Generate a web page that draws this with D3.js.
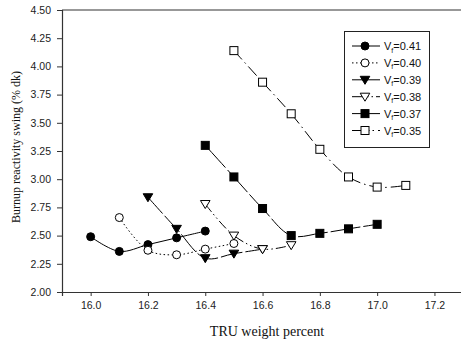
<!DOCTYPE html>
<html>
<head>
<meta charset="utf-8">
<script src="https://cdn.jsdelivr.net/npm/d3@7"></script>
<style>
  html, body { margin: 0; padding: 0; background: #fff; }
  svg { display: block; }
</style>
</head>
<body>
<script>
// TRU weight percent positions and burnup reactivity swing per fuel volume fraction
const vf41x = [16.0, 16.1, 16.2, 16.3, 16.4];
const vf41y = [2.49, 2.36, 2.42, 2.48, 2.54];
const vf40x = [16.1, 16.2, 16.3, 16.4, 16.5];
const vf40y = [2.66, 2.37, 2.33, 2.38, 2.43];
const vf39x = [16.2, 16.3, 16.4, 16.5, 16.6];
const vf39y = [2.84, 2.56, 2.30, 2.34, 2.38];
const vf38x = [16.4, 16.5, 16.6, 16.7];
const vf38y = [2.78, 2.50, 2.38, 2.415];
const vf37x = [16.4, 16.5, 16.6, 16.7, 16.8, 16.9, 17.0];
const vf37y = [3.30, 3.02, 2.74, 2.50, 2.52, 2.56, 2.60];
const vf35x = [16.5, 16.6, 16.7, 16.8, 16.9, 17.0, 17.1];
const vf35y = [4.14, 3.86, 3.58, 3.265, 3.02, 2.93, 2.945];

const seriesLabels = ["0.41", "0.40", "0.39", "0.38", "0.37", "0.35"];
const xTicks = [16.0, 16.2, 16.4, 16.6, 16.8, 17.0, 17.2];
const yTicks = [2.00, 2.25, 2.50, 2.75, 3.00, 3.25, 3.50, 3.75, 4.00, 4.25, 4.50];

const series = [
  { label: seriesLabels[0], xs: vf41x, ys: vf41y, marker: "circle",   fill: "#000", dash: null,               key: null },
  { label: seriesLabels[1], xs: vf40x, ys: vf40y, marker: "circle",   fill: "#fff", dash: "1.5,2.5",          key: "1.5,2.5" },
  { label: seriesLabels[2], xs: vf39x, ys: vf39y, marker: "triangle", fill: "#000", dash: "22,3",             key: null },
  { label: seriesLabels[3], xs: vf38x, ys: vf38y, marker: "triangle", fill: "#fff", dash: "10,3,1.5,3,1.5,3", key: "12,3,1.5,3,1.5,3" },
  { label: seriesLabels[4], xs: vf37x, ys: vf37y, marker: "square",   fill: "#000", dash: "30,3",             key: null },
  { label: seriesLabels[5], xs: vf35x, ys: vf35y, marker: "square",   fill: "#fff", dash: "12,4,1.5,4",       key: "12,4,1.5,3,1.5,4" }
];

const W = 461, H = 342;
const plot = { left: 62, top: 10, bottom: 292 };

const svg = d3.select("body").append("svg")
  .attr("width", W).attr("height", H);

const x = d3.scaleLinear().domain([15.9, 17.3]).range([plot.left, plot.left + 1.4 * 286.5]);
const y = d3.scaleLinear().domain([2.0, 4.5]).range([plot.bottom, plot.top]);

const axisColor = "#333";
const tickFont = "'Liberation Sans', Arial, sans-serif";
const titleFont = "'Liberation Serif', 'Times New Roman', serif";

// Axes
const gx = svg.append("g")
  .attr("transform", `translate(0,${plot.bottom})`)
  .call(d3.axisBottom(x).tickValues(xTicks).tickFormat(d3.format(".1f")).tickSize(4).tickPadding(6));
const gy = svg.append("g")
  .attr("transform", `translate(${plot.left},0)`)
  .call(d3.axisLeft(y).tickValues(yTicks).tickFormat(d3.format(".2f")).tickSize(5).tickPadding(6));

[gx, gy].forEach(g => {
  g.select(".domain").attr("stroke", axisColor).attr("stroke-width", 1.2);
  g.selectAll(".tick line").attr("stroke", axisColor);
  g.selectAll(".tick text").attr("fill", "#222")
    .style("font-family", tickFont).style("font-size", "10.5px");
});

// Top frame line
svg.append("line")
  .attr("x1", plot.left).attr("x2", W)
  .attr("y1", plot.top).attr("y2", plot.top)
  .attr("stroke", axisColor).attr("stroke-width", 1.2);

// Axis titles
svg.append("text")
  .attr("x", 267).attr("y", 336)
  .attr("text-anchor", "middle")
  .style("font-family", titleFont)
  .style("font-size", "14px")
  .attr("fill", "#111")
  .text("TRU weight percent");

svg.append("text")
  .attr("transform", "translate(20,147) rotate(-90)")
  .attr("text-anchor", "middle")
  .style("font-family", titleFont)
  .style("font-size", "12px")
  .attr("fill", "#111")
  .text("Burnup reactivity swing (% dk)");

// Marker drawing helper
function drawMarker(g, kind, fill, cx, cy) {
  if (kind === "circle") {
    g.append("circle").attr("cx", cx).attr("cy", cy).attr("r", 4)
      .attr("fill", fill).attr("stroke", "#000").attr("stroke-width", 1);
  } else if (kind === "square") {
    g.append("rect").attr("x", cx - 4).attr("y", cy - 4).attr("width", 8).attr("height", 8)
      .attr("fill", fill).attr("stroke", "#000").attr("stroke-width", 1);
  } else {
    g.append("path")
      .attr("d", `M${cx - 4.8},${cy - 3.5}L${cx + 4.8},${cy - 3.5}L${cx},${cy + 4.5}Z`)
      .attr("fill", fill).attr("stroke", "#000").attr("stroke-width", 1);
  }
}

const line = d3.line()
  .x(d => x(d[0])).y(d => y(d[1]))
  .curve(d3.curveCatmullRom.alpha(0.5));

const marks = svg.append("g");
series.forEach(s => {
  const pts = s.xs.map((v, i) => [v, s.ys[i]]);
  marks.append("path")
    .datum(pts)
    .attr("d", line)
    .attr("fill", "none")
    .attr("stroke", "#000")
    .attr("stroke-width", 1)
    .attr("stroke-dasharray", s.dash);
});
series.forEach(s => {
  s.xs.forEach((v, i) => drawMarker(marks, s.marker, s.fill, x(v), y(s.ys[i])));
});

// Legend
const lg = svg.append("g");
lg.append("rect")
  .attr("x", 344.5).attr("y", 31.5).attr("width", 85).attr("height", 116)
  .attr("fill", "#fff").attr("stroke", "#222").attr("stroke-width", 1);

series.forEach((s, i) => {
  const ry = 46 + i * 16.9;
  lg.append("line")
    .attr("x1", 352).attr("x2", 380).attr("y1", ry).attr("y2", ry)
    .attr("stroke", "#000").attr("stroke-width", 1)
    .attr("stroke-dasharray", s.key);
  drawMarker(lg, s.marker, s.fill, 365, ry);
  const t = lg.append("text")
    .attr("x", 384).attr("y", ry + 4)
    .style("font-family", tickFont).style("font-size", "11px")
    .attr("fill", "#111");
  t.append("tspan").text("V");
  t.append("tspan").attr("dy", 2.5).style("font-size", "7px").text("f");
  t.append("tspan").attr("dy", -2.5).text("=" + s.label);
});
</script>
</body>
</html>
